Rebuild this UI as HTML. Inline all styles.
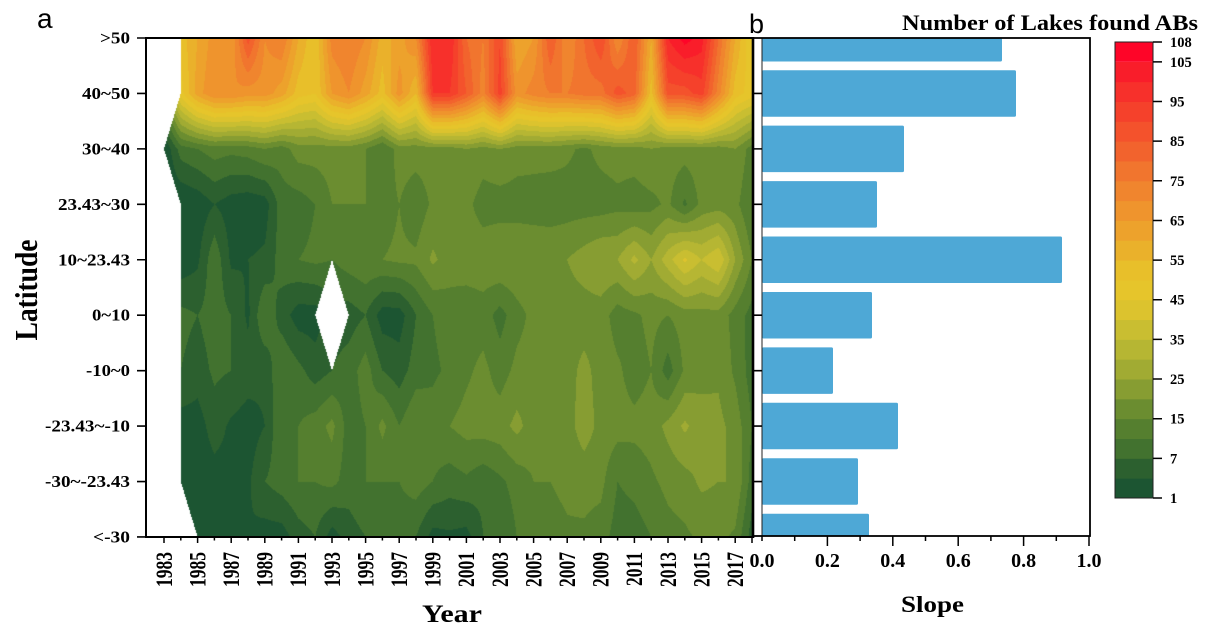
<!DOCTYPE html>
<html><head><meta charset="utf-8">
<style>
html,body{margin:0;padding:0;background:#fff;}
#wrap{position:relative;width:1213px;height:632px;overflow:hidden;background:#fff;}
#cv{position:absolute;left:146px;top:38px;width:607px;height:500px;
background:linear-gradient(#f0902e 0%,#e8c42a 15%,#6b8d30 25%,#567f2f 55%,#2c602f 100%);}
svg{position:absolute;left:0;top:0;}
.s{font-family:"Liberation Serif",serif;font-weight:bold;fill:#000;}
.a{font-family:"Liberation Sans",sans-serif;fill:#000;}
</style></head><body>
<div id="wrap">
<canvas id="cv" width="607" height="500"></canvas>
<svg width="1213" height="632" viewBox="0 0 1213 632" xmlns="http://www.w3.org/2000/svg">
<!-- panel letters -->
<text class="a" x="37" y="28" font-size="28">a</text>
<text class="a" x="749" y="33" font-size="27">b</text>
<text class="s" x="902" y="30" font-size="22" textLength="296" lengthAdjust="spacingAndGlyphs">Number of Lakes found ABs</text>

<!-- panel a axes -->
<g stroke="#000" fill="none">
<line x1="146" y1="37" x2="146" y2="538" stroke-width="2"/>
<line x1="145" y1="38" x2="753" y2="38" stroke-width="2"/>
<line x1="145" y1="537" x2="753" y2="537" stroke-width="2"/>
<path stroke-width="1.6" d="M137 38H146M137 93.44H146M137 148.88H146M137 204.32H146M137 259.76H146M137 315.2H146M137 370.64H146M137 426.08H146M137 481.52H146M137 536.96H146"/>
<path stroke-width="1.5" d="M164 537V543M180.8 537V540.5M197.6 537V543M214.4 537V540.5M231.2 537V543M248 537V540.5M264.8 537V543M281.6 537V540.5M298.4 537V543M315.2 537V540.5M332 537V543M348.8 537V540.5M365.6 537V543M382.4 537V540.5M399.2 537V543M416 537V540.5M432.8 537V543M449.6 537V540.5M466.4 537V543M483.2 537V540.5M500 537V543M516.8 537V540.5M533.6 537V543M550.4 537V540.5M567.2 537V543M584 537V540.5M600.8 537V543M617.6 537V540.5M634.4 537V543M651.2 537V540.5M668 537V543M684.8 537V540.5M701.6 537V543M718.4 537V540.5M735.2 537V543M752 537V543"/>
</g>

<!-- y labels -->
<g class="s" font-size="17">
<text x="100" y="43.5" textLength="30" lengthAdjust="spacingAndGlyphs">&gt;50</text>
<text x="82" y="99" textLength="48" lengthAdjust="spacingAndGlyphs">40~50</text>
<text x="82" y="154.4" textLength="48" lengthAdjust="spacingAndGlyphs">30~40</text>
<text x="58" y="209.8" textLength="72" lengthAdjust="spacingAndGlyphs">23.43~30</text>
<text x="58" y="265.3" textLength="72" lengthAdjust="spacingAndGlyphs">10~23.43</text>
<text x="92" y="320.7" textLength="38" lengthAdjust="spacingAndGlyphs">0~10</text>
<text x="86" y="376.1" textLength="44" lengthAdjust="spacingAndGlyphs">-10~0</text>
<text x="45" y="431.6" textLength="85" lengthAdjust="spacingAndGlyphs">-23.43~-10</text>
<text x="45" y="487" textLength="85" lengthAdjust="spacingAndGlyphs">-30~-23.43</text>
<text x="93" y="542.5" textLength="37" lengthAdjust="spacingAndGlyphs">&lt;-30</text>
</g>
<text class="s" font-size="24" text-anchor="middle" transform="translate(37,290) scale(1.3,1) rotate(-90)" textLength="101" lengthAdjust="spacingAndGlyphs">Latitude</text>

<!-- x labels -->
<g class="s" font-size="17.5" text-anchor="end">
<text transform="translate(171.8,552) scale(1.33,1) rotate(-90)">1983</text>
<text transform="translate(205.4,552) scale(1.33,1) rotate(-90)">1985</text>
<text transform="translate(239,552) scale(1.33,1) rotate(-90)">1987</text>
<text transform="translate(272.6,552) scale(1.33,1) rotate(-90)">1989</text>
<text transform="translate(306.2,552) scale(1.33,1) rotate(-90)">1991</text>
<text transform="translate(339.8,552) scale(1.33,1) rotate(-90)">1993</text>
<text transform="translate(373.4,552) scale(1.33,1) rotate(-90)">1995</text>
<text transform="translate(407,552) scale(1.33,1) rotate(-90)">1997</text>
<text transform="translate(440.6,552) scale(1.33,1) rotate(-90)">1999</text>
<text transform="translate(474.2,552) scale(1.33,1) rotate(-90)">2001</text>
<text transform="translate(507.8,552) scale(1.33,1) rotate(-90)">2003</text>
<text transform="translate(541.4,552) scale(1.33,1) rotate(-90)">2005</text>
<text transform="translate(575,552) scale(1.33,1) rotate(-90)">2007</text>
<text transform="translate(608.6,552) scale(1.33,1) rotate(-90)">2009</text>
<text transform="translate(642.2,552) scale(1.33,1) rotate(-90)">2011</text>
<text transform="translate(675.8,552) scale(1.33,1) rotate(-90)">2013</text>
<text transform="translate(709.4,552) scale(1.33,1) rotate(-90)">2015</text>
<text transform="translate(743,552) scale(1.33,1) rotate(-90)">2017</text>
</g>
<text class="s" x="422" y="622" font-size="25" textLength="60" lengthAdjust="spacingAndGlyphs">Year</text>

<!-- panel b bars -->
<g fill="#4ea8d6">
<rect x="762" y="38" width="240" height="23.5" rx="1.5"/>
<rect x="762" y="70.2" width="254" height="46.5" rx="1.5"/>
<rect x="762" y="125.6" width="142" height="46.5" rx="1.5"/>
<rect x="762" y="181.1" width="115" height="46.5" rx="1.5"/>
<rect x="762" y="236.5" width="300" height="46.5" rx="1.5"/>
<rect x="762" y="292" width="110" height="46.5" rx="1.5"/>
<rect x="762" y="347.4" width="71" height="46.5" rx="1.5"/>
<rect x="762" y="402.8" width="136" height="46.5" rx="1.5"/>
<rect x="762" y="458.3" width="96" height="46.5" rx="1.5"/>
<rect x="762" y="513.7" width="107" height="22.8" rx="1.5"/>
</g>
<g stroke="#000" fill="none">
<line x1="762" y1="38" x2="762" y2="536" stroke-width="1" stroke="#222"/>
<rect x="753" y="38" width="337" height="498" stroke-width="1.8"/>
<line x1="753" y1="37" x2="753" y2="538" stroke-width="2.6"/>
<path stroke-width="1.6" d="M753 93.44H762M753 148.88H762M753 204.32H762M753 259.76H762M753 315.2H762M753 370.64H762M753 426.08H762M753 481.52H762"/>
<path stroke-width="1.5" d="M762 536V541M794.7 536V541M827.4 536V546M860.1 536V541M892.8 536V546M925.5 536V541M958.2 536V546M990.9 536V541M1023.6 536V546M1056.3 536V541M1089 536V546"/>
</g>
<g class="s" font-size="20" text-anchor="middle">
<text x="762" y="567">0.0</text>
<text x="827.4" y="567">0.2</text>
<text x="892.8" y="567">0.4</text>
<text x="958.2" y="567">0.6</text>
<text x="1023.6" y="567">0.8</text>
<text x="1089" y="567">1.0</text>
</g>
<text class="s" x="901" y="612" font-size="23.5" textLength="63" lengthAdjust="spacingAndGlyphs">Slope</text>

<!-- colorbar -->
<g>
<rect x="1115" y="478.17" width="38" height="20.3" fill="#1c5532"/>
<rect x="1115" y="458.35" width="38" height="20.3" fill="#2c602f"/>
<rect x="1115" y="438.52" width="38" height="20.3" fill="#42722f"/>
<rect x="1115" y="418.70" width="38" height="20.3" fill="#557f2f"/>
<rect x="1115" y="398.87" width="38" height="20.3" fill="#6b8d30"/>
<rect x="1115" y="379.04" width="38" height="20.3" fill="#879d32"/>
<rect x="1115" y="359.22" width="38" height="20.3" fill="#a1ab33"/>
<rect x="1115" y="339.39" width="38" height="20.3" fill="#b6b633"/>
<rect x="1115" y="319.57" width="38" height="20.3" fill="#c9be31"/>
<rect x="1115" y="299.74" width="38" height="20.3" fill="#dcc32e"/>
<rect x="1115" y="279.91" width="38" height="20.3" fill="#e6c52b"/>
<rect x="1115" y="260.09" width="38" height="20.3" fill="#e8bf2a"/>
<rect x="1115" y="240.26" width="38" height="20.3" fill="#eab12b"/>
<rect x="1115" y="220.44" width="38" height="20.3" fill="#eda22c"/>
<rect x="1115" y="200.61" width="38" height="20.3" fill="#ef942d"/>
<rect x="1115" y="180.78" width="38" height="20.3" fill="#f0852e"/>
<rect x="1115" y="160.96" width="38" height="20.3" fill="#f1752e"/>
<rect x="1115" y="141.13" width="38" height="20.3" fill="#f2632d"/>
<rect x="1115" y="121.30" width="38" height="20.3" fill="#f4522c"/>
<rect x="1115" y="101.48" width="38" height="20.3" fill="#f5412b"/>
<rect x="1115" y="81.65" width="38" height="20.3" fill="#f7302b"/>
<rect x="1115" y="61.83" width="38" height="20.3" fill="#f91d2a"/>
<rect x="1115" y="42.00" width="38" height="19.83" fill="#fe0528"/>
<rect x="1115" y="42" width="38" height="456" fill="none" stroke="#222" stroke-width="1"/>
<path stroke="#000" stroke-width="1.5" d="M1153 42H1162M1153 61.83H1162M1153 101.48H1162M1153 141.13H1162M1153 180.78H1162M1153 220.44H1162M1153 260.09H1162M1153 299.74H1162M1153 339.39H1162M1153 379.04H1162M1153 418.7H1162M1153 458.35H1162M1153 498H1162"/>
</g>
<g class="s" font-size="14.5">
<text x="1170" y="47">108</text>
<text x="1170" y="66.8">105</text>
<text x="1170" y="106.5">95</text>
<text x="1170" y="146.1">85</text>
<text x="1170" y="185.8">75</text>
<text x="1170" y="225.4">65</text>
<text x="1170" y="265.1">55</text>
<text x="1170" y="304.7">45</text>
<text x="1170" y="344.4">35</text>
<text x="1170" y="384">25</text>
<text x="1170" y="423.7">15</text>
<text x="1170" y="463.3">7</text>
<text x="1170" y="503">1</text>
</g>
</svg>
</div>
<script>
(function(){
var c=document.getElementById('cv');if(!c||!c.getContext)return;
var ctx=c.getContext('2d');var W=607,H=500;var img=ctx.createImageData(W,H);var d=img.data;
var BC=['#1c5532','#2c602f','#42722f','#557f2f','#6b8d30','#879d32','#a1ab33','#b6b633','#c9be31','#dcc32e','#e6c52b','#e8bf2a','#eab12b','#eda22c','#ef942d','#f0852e','#f1752e','#f2632d','#f4522c','#f5412b','#f7302b','#f91d2a','#fe0528'];
var rgb=BC.map(function(h){return [parseInt(h.substr(1,2),16),parseInt(h.substr(3,2),16),parseInt(h.substr(5,2),16)];});
var G=[
[11,11.5,13,14.5,14,18.5,15,16,13,11,15.5,16,15,12.5,13.5,15,21,21,17,16,19,13,14,18,15,17,19,15,18,13,21,22.5,21.5,17,13,10],
[4,10.5,13.5,15,15,14.5,14.5,13.5,11.5,11,14,15,13.5,11.5,14.5,12,20,20,18,15.5,19.5,14.5,15.5,16,16,16.5,16.5,18.5,17.5,11.5,18.5,18.5,19.5,15.5,11.5,10.5],
[0,2.5,3,3.5,3.3,3.5,4,3.5,4.5,4.5,4.5,4.5,4,3,4.5,4.5,4.5,4.5,5,4.6,5,4.5,4.5,4.5,4.2,3.8,4.3,4.5,4.5,5,4.5,4.5,4.6,4.5,5,3.5],
[0,0,0.3,1,0.5,0.3,0.5,2.5,2.5,3,4,4,4,3.5,4,3.3,4.2,4.5,4.3,3.5,3.5,3.5,3.4,3.3,3.5,3.5,3.5,3.7,3.5,3.7,4.2,2.8,4.3,4.5,4.3,3],
[0,0.3,0.8,2.8,0.8,1,1.2,2.5,3,3.2,3,3.5,3.8,4,4.2,4.2,5.2,4.5,4.6,4.7,5,5,5,5,5,5.5,6,6,7.3,6,7.6,9.2,8,9.0,6,4],
[0,2.3,2,2.5,2,0.8,3,1.5,0.5,0.5,1.5,1.5,2,0.5,0.5,2,3,3.5,3.3,3.5,2.6,3.6,4.3,4.5,4.5,4.5,4.5,3.5,3.8,4.3,4,4.5,4.6,4.6,3.6,2.6],
[0,2,1.5,2.2,2,1.5,1.2,3,2.3,1.5,2,2.5,3.5,2,1.5,2.5,2.8,3.2,3.8,4.3,3.5,4.3,4.5,4.5,4.6,5.3,4.6,4.2,3.5,4,2.5,4.2,4.7,4.8,3.8,2.5],
[0,0.5,0.5,1.5,0.8,0.5,1,3,3,3.5,4.3,2.5,3,4.3,3,4,3.5,4,4.4,4.5,4.6,5.3,4.5,4.5,4.6,5.5,4.7,4.4,4.3,4.5,5.3,6.2,5.4,5.3,4.6,3],
[0,0.3,0.3,0.5,0.6,0.8,2,2.5,3,3,3.3,2.5,3,3,3,3.5,3,2.5,2.8,2.3,2.8,3.4,4,4,4.3,4.4,4.3,3,3.3,3.8,4.3,4.6,5.2,5,5,2.5],
[0,0.3,0.3,0.3,0.5,1,0.5,0.5,1.5,2,0.5,1.5,2,2.5,2.5,2,0.6,0.8,0.6,2,2,3,3.5,3.5,3.8,3.8,3.5,2.5,2.5,3,3.6,3.8,4.2,4.3,3.8,1.5]
];
var DY=55.44,DX=16.8;
for(var py=0;py<H;py++){
 var Y=38+py+0.5;var r=(Y-38)/DY;if(r<0)r=0;if(r>9)r=9;var r0=Math.min(8,Math.floor(r));var fr=r-r0;
 var lb;
 if(Y<93.44)lb=180.8;else if(Y<148.88)lb=180.8-DX*(Y-93.44)/DY;else if(Y<204.32)lb=164+DX*(Y-148.88)/DY;else if(Y<481.52)lb=180.8;else lb=180.8+DX*(Y-481.52)/DY;
 for(var px=0;px<W;px++){
  var X=146+px+0.5;var i=(py*W+px)*4;var col;
  if(X<lb||X>752.8||Y>537.5||(Math.abs(X-332)/DX+Math.abs(Y-315.2)/DY<1)){col=[255,255,255];}
  else{
   var cc=(X-164)/DX;if(cc<0)cc=0;if(cc>35)cc=35;var c0=Math.min(34,Math.floor(cc));var fc=cc-c0;
   var v=G[r0][c0]*(1-fc)*(1-fr)+G[r0][c0+1]*fc*(1-fr)+G[r0+1][c0]*(1-fc)*fr+G[r0+1][c0+1]*fc*fr;
   var b=Math.floor(v);if(b<0)b=0;if(b>22)b=22;col=rgb[b];
  }
  d[i]=col[0];d[i+1]=col[1];d[i+2]=col[2];d[i+3]=255;
 }
}
ctx.putImageData(img,0,0);
})();
</script>
</body></html>
